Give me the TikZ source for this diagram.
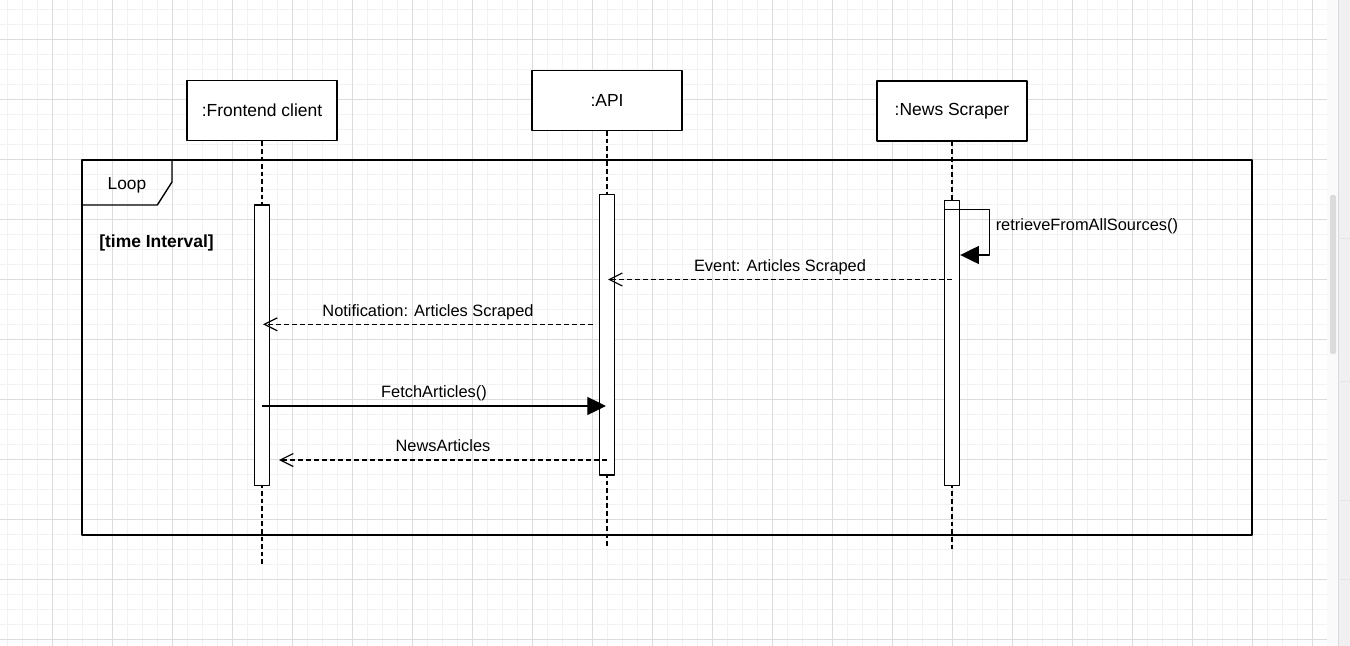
\documentclass[tikz,border=0pt]{standalone}
\usepackage{fontspec}
\setmainfont{Liberation Sans}
\usetikzlibrary{arrows.meta,positioning}
\definecolor{gridmajor}{HTML}{DCDCDC}
\definecolor{gridminor}{HTML}{F2F2F2}
\definecolor{panel}{HTML}{F0F0F3}
\tikzset{
  participant/.style={draw, fill=white, line width=1.05pt, minimum width=112.5pt, minimum height=45pt, inner sep=0pt, font=\fontsize{13.1}{15}\selectfont},
  lifeline/.style={line width=0.85pt, dash pattern=on 3.5pt off 2.2pt},
  actbar/.style={draw, fill=white, line width=1.05pt, minimum width=11.25pt, inner sep=0pt},
  callmsg/.style={line width=0.9pt, -{Triangle[length=14pt,width=13.5pt]}},
  replymsg/.style={line width=0.9pt, dash pattern=on 3.4pt off 2.6pt, -{Straight Barb[length=9.75pt,width=9.75pt]}},
  msglabel/.style={anchor=base, yshift=6.2pt, inner sep=0pt, font=\fontsize{12.3}{14}\selectfont},
}
\begin{document}
\begin{tikzpicture}[x=0.75pt, y=-0.75pt, line join=round, font=\fontsize{12.3}{14}\selectfont]
            \useasboundingbox (0,0) rectangle (1350,646);
            \fill[white] (0,0) rectangle (1350,646);
            \begin{scope}
                \clip (0,0) rectangle (1327,646);
                \foreach \gx in {7.3,22.3,...,1327} \draw[gridminor, line width=0.75pt] (\gx,0) -- (\gx,646);
                \foreach \gy in {9.3,24.3,...,646} \draw[gridminor, line width=0.75pt] (0,\gy) -- (1327,\gy);
                \foreach \gx in {52.3,112.3,...,1327} \draw[gridmajor, line width=0.75pt] (\gx,0) -- (\gx,646);
                \foreach \gy in {39.3,99.3,...,646} \draw[gridmajor, line width=0.75pt] (0,\gy) -- (1327,\gy);
            \end{scope}
            \fill[black!2] (1327,0) rectangle (1338,646);
            \fill[panel] (1338,0) rectangle (1350,646);
            \draw[black!15, line width=0.75pt] (1338.3,0) -- (1338.3,646);
            \foreach \sy in {238,381,500,579} \draw[black!10, line width=0.75pt] (1338.3,\sy) -- (1350,\sy);
            \fill[black!14, rounded corners=1.5pt] (1330,195) rectangle (1336,354);

            \draw[line width=1.05pt] (82,160) rectangle (1252,535);
            \draw[line width=1.05pt] (82,205) -- (157.3,205) -- (172,182) -- (172,160);
            \node[anchor=base, inner sep=0pt, font=\fontsize{13}{15}\selectfont] (looplabel) at (127,189.3) {Loop};
            \node[anchor=base west, inner sep=0pt, font=\fontsize{13.1}{15}\selectfont\bfseries] (guard) at (99,247.3) {[time Interval]};

            \node[participant] (frontend) at (262,110.7) {:Frontend client};
            \node[participant] (api) at (607,100.2) {:API};
            \node[participant] (scraper) at (952,111) {:News Scraper};

            \draw[lifeline] (frontend) -- (frontend |- 0,564);
            \draw[lifeline] (api) -- (api |- 0,548);
            \draw[lifeline] (scraper) -- (scraper |- 0,549);

            \node[actbar, minimum height=210.5pt] (actF) at (262,345.4) {};
            \node[actbar, minimum height=210.5pt] (actA) at (607,334.7) {};
            \node[actbar, minimum height=213.75pt] (actS) at (952,343.2) {};

            \coordinate (selfTop) at (989.5,209.3);
            \coordinate (notifFrom) at (593,324.3);
            \coordinate (newsTo) at (279,460);

            \draw[callmsg] (actS.west |- selfTop) -- (selfTop) -- (selfTop |- 0,255) -- (actS.east |- 0,255);
            \node[anchor=base west, inner sep=0pt] (selflabel) at (995.5,230) {retrieveFromAllSources()};
            \draw[replymsg] (scraper |- 0,279.5) -- ([xshift=0.75pt]api |- 0,279.5) node[msglabel, midway] {Event: Articles Scraped};
            \draw[replymsg] (notifFrom) -- ([xshift=0.75pt]frontend |- notifFrom) node[msglabel, midway] {Notification: Articles Scraped};
            \draw[callmsg] (frontend |- 0,406) -- ([xshift=-0.75pt]api |- 0,406) node[msglabel, midway, yshift=0.4pt] {FetchArticles()};
            \draw[replymsg] (api |- newsTo) -- (newsTo) node[msglabel, midway] {NewsArticles};
        \end{tikzpicture}
\end{document}
